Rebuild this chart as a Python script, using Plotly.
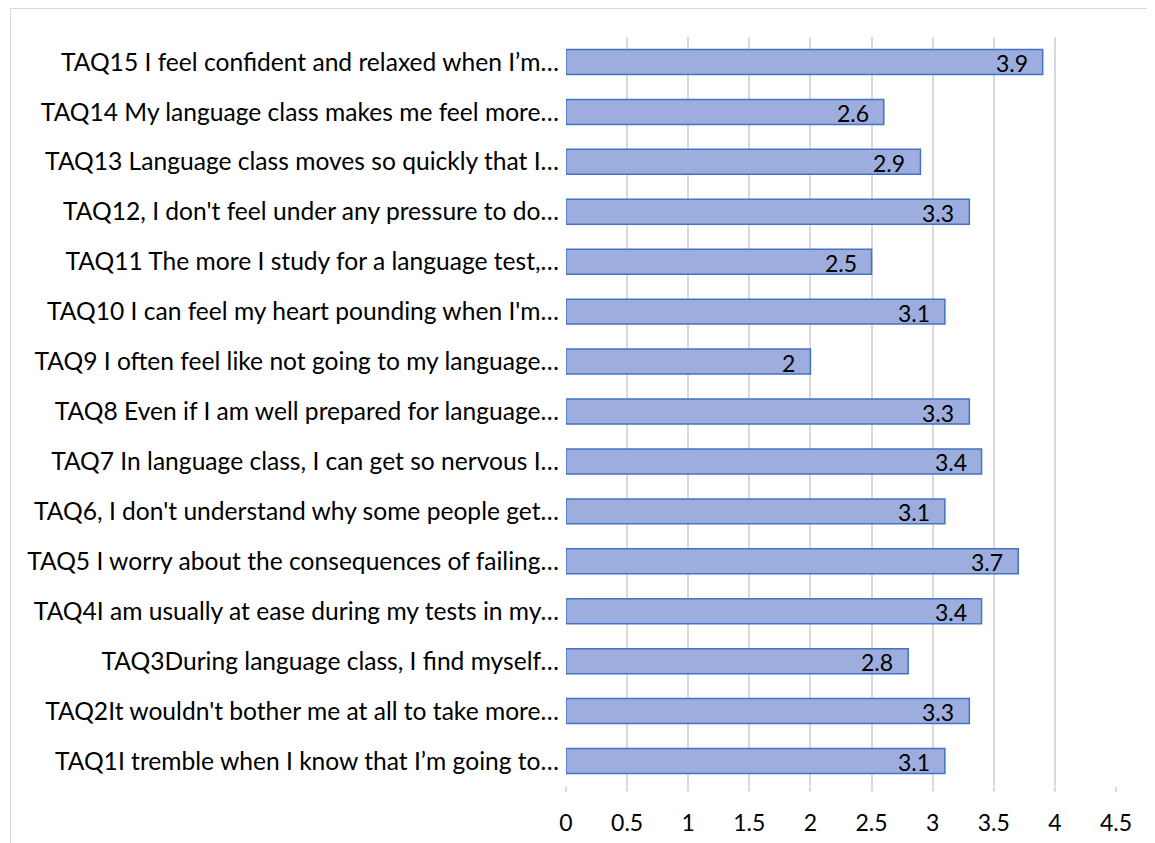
import plotly.graph_objects as go

categories = [
    "TAQ1I tremble when I know that I’m going to…",
    "TAQ2It wouldn't bother me at all to take more…",
    "TAQ3During language class, I find myself…",
    "TAQ4I am usually at ease during my tests in my…",
    "TAQ5 I worry about the consequences of failing…",
    "TAQ6, I don't understand why some people get…",
    "TAQ7 In language class, I can get so nervous I…",
    "TAQ8 Even if I am well prepared for language…",
    "TAQ9 I often feel like not going to my language…",
    "TAQ10 I can feel my heart pounding when I'm…",
    "TAQ11 The more I study for a language test,…",
    "TAQ12, I don't feel under any pressure to do…",
    "TAQ13 Language class moves so quickly that I…",
    "TAQ14 My language class makes me feel more…",
    "TAQ15 I feel confident and relaxed when I’m…",
]
values = [3.1, 3.3, 2.8, 3.4, 3.7, 3.1, 3.4, 3.3, 2.0, 3.1, 2.5, 3.3, 2.9, 2.6, 3.9]
x_ticks = [0, 0.5, 1, 1.5, 2, 2.5, 3, 3.5, 4, 4.5]
x_tick_labels = ["0", "0.5", "1", "1.5", "2", "2.5", "3", "3.5", "4", "4.5"]

FONT = "Lato"
# page body has an 8px margin; figure sized so the page is 1155x843 overall
W, H = 1147, 835
L, R, T, B = 558, 39, 29, 57
pw, ph = W - L - R, H - T - B

fig = go.Figure(go.Bar(
    x=values, y=categories, orientation="h",
    width=0.5,
    marker=dict(color="#9DAEDE", line=dict(color="#4472C4", width=1.5)),
    hoverinfo="x+y",
))

annotations = [
    dict(x=v, y=c, xref="x", yref="y", text=f"{v:g}", showarrow=False,
         xanchor="right", yanchor="middle", xshift=-13, yshift=-1,
         font=dict(family=FONT, size=23, color="#000000"))
    for c, v in zip(categories, values)
]

fig.update_layout(
    width=W, height=H,
    margin=dict(l=L, r=R, t=T, b=B, pad=0, autoexpand=False),
    paper_bgcolor="white", plot_bgcolor="white",
    showlegend=False,
    font=dict(family=FONT, size=23, color="#000000"),
    xaxis=dict(
        range=[0, 4.5], tickvals=x_ticks, ticktext=x_tick_labels,
        showgrid=True, gridcolor="#D9D9D9", gridwidth=1.5,
        zeroline=False, showline=False,
        ticks="outside", ticklen=5, tickcolor="#D9D9D9", tickwidth=1.5,
        ticklabelstandoff=11, automargin=False,
        tickfont=dict(family=FONT, size=23, color="#000000"),
        fixedrange=True,
    ),
    yaxis=dict(
        showgrid=False, zeroline=False, showline=False,
        ticks="", ticklabelstandoff=6, automargin=False,
        tickfont=dict(family=FONT, size=24.6, color="#000000"),
        fixedrange=True,
    ),
    annotations=annotations,
    shapes=[
        dict(type="line", xref="paper", yref="paper",
             x0=(2 - L) / pw, x1=(W - L) / pw,
             y0=(H - B - 0.5) / ph, y1=(H - B - 0.5) / ph,
             line=dict(color="#D9D9D9", width=1), layer="below"),
        dict(type="line", xref="paper", yref="paper",
             x0=(2.5 - L) / pw, x1=(2.5 - L) / pw,
             y0=(H - B - 0.5) / ph, y1=-B / ph,
             line=dict(color="#D9D9D9", width=1), layer="below"),
    ],
)

fig.write_html("out.html")
